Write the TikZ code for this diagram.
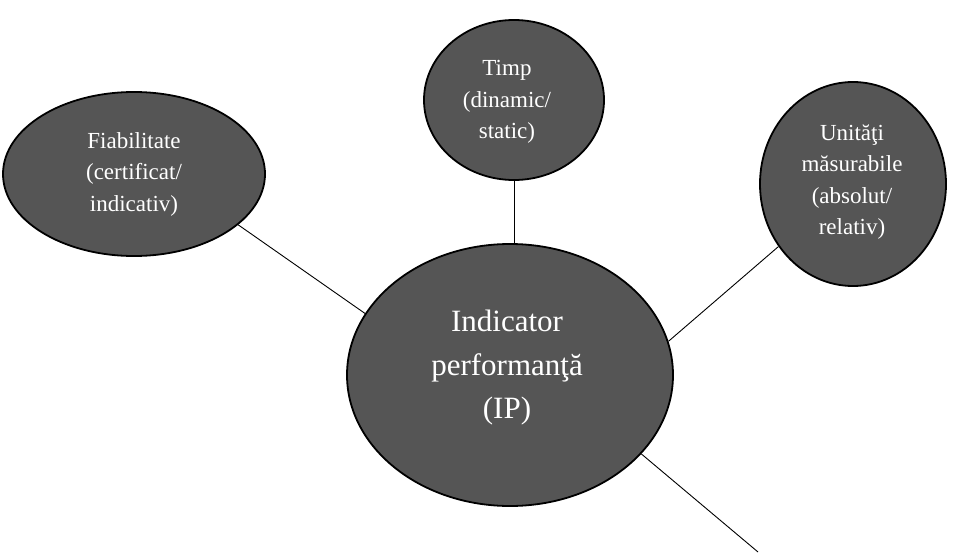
\documentclass[tikz,border=0pt]{standalone}
\usepackage{fontspec}
\setmainfont{Liberation Serif}
\usetikzlibrary{shapes.geometric}
\definecolor{bubblegray}{HTML}{555555}
\begin{document}
\begin{tikzpicture}[x=1pt,y=-1pt,
  bubble/.style={ellipse,draw=black,line width=1.8pt,fill=bubblegray,inner sep=0pt},
  smalltext/.style={text=white,align=center,inner sep=0pt,font=\fontsize{23}{31.5}\selectfont},
  bigtext/.style={text=white,align=center,inner sep=0pt,font=\fontsize{31}{43.5}\selectfont},
  link/.style={draw=black,line width=0.9pt}]
\useasboundingbox (0,0) rectangle (953,554);
% bubbles
\node[bubble,minimum width=262pt,minimum height=164pt] (L) at (134,174) {};
\node[bubble,minimum width=180pt,minimum height=160pt] (T) at (514,100) {};
\node[bubble,minimum width=186pt,minimum height=204pt] (R) at (853,184) {};
\node[bubble,minimum width=326pt,minimum height=262pt] (C) at (510,375) {};
% labels
\node[smalltext] (Lt) at (134,174) {Fiabilitate\\(certificat/\\indicativ)};
\node[smalltext] (Tt) at (507,102) {Timp\\(dinamic/\\static)};
\node[smalltext] (Rt) at (852,182) {Unităţi\\măsurabile\\(absolut/\\relativ)};
\node[bigtext] (Ct) at (507,368) {Indicator\\performanţă\\(IP)};
% connectors
\coordinate (E) at (758,552);
\draw[link] (L.-26.6) -- (C.157);
\draw[link] (T.south) -- (T.south |- C.north);
\draw[link] (R.220.4) -- (C.12.5);
\draw[link] (C.-31) -- (E);
\end{tikzpicture}
\end{document}
